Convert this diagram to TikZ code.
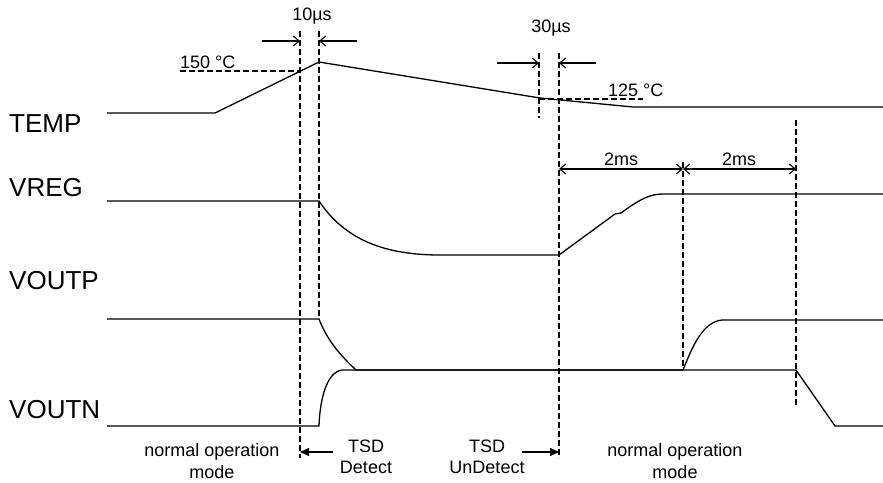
\documentclass[tikz,border=0pt]{standalone}
\usepackage{fontspec}
\setmainfont{Liberation Sans}
\usetikzlibrary{arrows.meta}
\tikzset{sig/.style={black, line width=1.3pt},
  guide/.style={black, line width=2.3pt, dash pattern=on 6pt off 3pt},
  dimarr/.style={black, line width=1.1pt, ->, >={Straight Barb[length=6pt,width=10pt]}},
  spanarr/.style={black, line width=1.1pt, <->, >={Straight Barb[length=6pt,width=10pt]}},
  tsdarr/.style={black, line width=1.2pt, ->, >={Triangle[length=9pt,width=8pt]}},
  sname/.style={font=\fontsize{26}{30}\selectfont, anchor=west, inner sep=0pt},
  txt/.style={font=\fontsize{18}{21.5}\selectfont, inner sep=0pt, align=center}}

\begin{document}
\begin{tikzpicture}[x=1pt, y=-1pt]
\useasboundingbox (0,0) rectangle (883,482);
\node[sname] (temp)  at (9,124) {TEMP};
\node[sname] (vreg)  at (9,188) {VREG};
\node[sname] (voutp) at (9,281) {VOUTP};
\node[sname] (voutn) at (9,410) {VOUTN};
\foreach \gname/\gx/\gtop/\gbot in {ga/300/31/458, gb/319/31/319, gc/539/53/118, gd/559/53/458, ge/683/162/370, gf/796/120/405} {
  \coordinate (\gname) at (\gx,\gtop);
  \coordinate (\gname-end) at (\gx,\gbot);
  \draw[guide] (\gname) -- (\gname-end);
}
\draw[sig] (107,113) -- (215,113) -- (319,62) -- (540,98) -- (633,107) -- (883,107);
\draw[sig] (107,201) -- (319,201) .. controls (345,240) and (385,255) .. (440,255) -- (559,255) -- (615,214) -- (621,213) .. controls (640,199) and (650,194) .. (663,194) -- (883,194);
\draw[sig] (107,319) -- (319,319) .. controls (327,340) and (340,355) .. (356,370) -- (683,370) .. controls (693,345) and (703,322) .. (722,320) -- (883,320);
\draw[sig] (107,426) -- (319,426) .. controls (320,398) and (327,372) .. (342,370) -- (796,370) -- (835,426) -- (883,426);
\coordinate (hot) at (180,71);
\coordinate (cool) at (643,99);
\draw[guide, line width=2pt] (hot) -- (hot -| ga);
\draw[guide, line width=2pt] (cool -| gc) -- (cool);
\node[txt, anchor=south west] (t150) at (180,69) {150 °C};
\node[txt, anchor=south west] (t125) at (608,97) {125 °C};
\node[txt] (t10) at (312,16) {10µs};
\node[txt] (t30) at (551,28) {30µs};
\coordinate (d10a) at (262,41);
\coordinate (d10b) at (357,41);
\coordinate (d30a) at (497,63);
\coordinate (d30b) at (596,63);
\draw[dimarr] (d10a) -- (d10a -| ga);
\draw[dimarr] (d10b) -- (d10b -| gb);
\draw[dimarr] (d30a) -- (d30a -| gc);
\draw[dimarr] (d30b) -- (d30b -| gd);
\coordinate (span) at (0,169);
\draw[spanarr] (span -| gd) -- (span -| ge);
\draw[spanarr] (span -| ge) -- (span -| gf);
\node[txt] (ms1) at (621,159) {2ms};
\node[txt] (ms2) at (739,159) {2ms};
\node[txt] (mode1) at (212,461) {normal operation\\mode};
\node[txt] (det)   at (366,457) {TSD\\Detect};
\node[txt] (undet) at (487,457) {TSD\\UnDetect};
\node[txt] (mode2) at (675,461) {normal operation\\mode};
\coordinate (detarr) at (333,452);
\coordinate (undetarr) at (522,452);
\draw[tsdarr] (detarr) -- (detarr -| ga);
\draw[tsdarr] (undetarr) -- (undetarr -| gd);
\end{tikzpicture}
\end{document}
